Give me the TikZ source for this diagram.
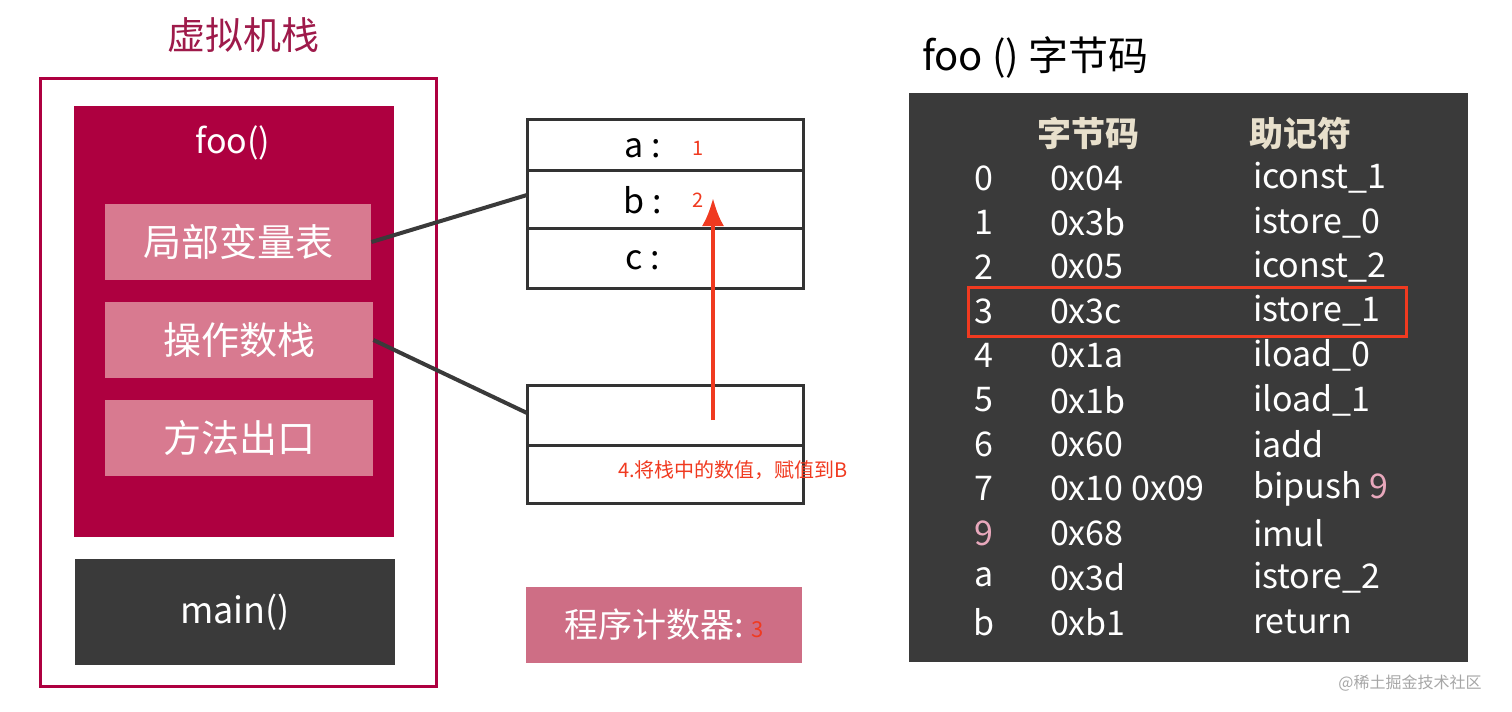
\documentclass[tikz,border=0pt]{standalone}
\usepackage{fontspec}
\setmainfont{Noto Sans CJK SC}
\usetikzlibrary{positioning,arrows.meta}
\definecolor{crimson}{HTML}{AE0040}
\definecolor{wine}{HTML}{9E1A4A}
\definecolor{rosy}{HTML}{D87A90}
\definecolor{pcpink}{HTML}{CE6E85}
\definecolor{slate}{HTML}{3A3A3A}
\definecolor{beige}{HTML}{E8E0CC}
\definecolor{hot}{HTML}{F03A20}
\definecolor{lilac}{HTML}{E8A8BC}
\tikzset{
  sect/.style={fill=rosy, text=white, font=\fontsize{19}{19}\selectfont},
  slot/.style={draw=black!80, line width=1.5pt},
  link/.style={draw=slate, line width=2pt},
  op/.style={text=white, font=\fontsize{17}{17}\selectfont, anchor=west},
}
\begin{document}
\begin{tikzpicture}[x=0.5pt, y=-0.5pt]
  \useasboundingbox (0,0) rectangle (1512,712);

  % left: the stack
  \node[text=wine, font=\fontsize{19}{19}\selectfont] (title) at (243,35) {虚拟机栈};
  \draw[crimson, line width=1.5pt] (40,78) rectangle (436,686);
  \fill[crimson] (74,106) rectangle (394,537);
  \node[text=white, font=\fontsize{17}{17}\selectfont] (foo) at (233,143) {foo()};
  \node[sect, minimum width=133pt, minimum height=38pt] (locals) at (238,242) {局部变量表};
  \node[sect, minimum width=134pt, minimum height=38pt] (opstack) at (239,340) {操作数栈};
  \node[sect, minimum width=134pt, minimum height=38pt] (exit) at (239,438) {方法出口};
  \node[fill=slate, text=white, minimum width=160pt, minimum height=53pt,
    font=\fontsize{18}{18}\selectfont] (main) at (235,612) {main()};

  % middle: local variable table and operand stack
  \draw[slot] (527,119) rectangle (803,288);
  \draw[slot] (527,170) -- (803,170);
  \draw[slot] (527,228) -- (803,228);
  \coordinate (lvt) at (527,195);
  \node[font=\fontsize{17}{17}\selectfont] (a) at (643,148) {a :};
  \node[font=\fontsize{17}{17}\selectfont] (b) at (643,200) {b :};
  \node[font=\fontsize{17}{17}\selectfont] (c) at (643,260) {c :};
  \node[text=hot, font=\fontsize{10}{10}\selectfont] (va) at (698,148) {1};
  \node[text=hot, font=\fontsize{10}{10}\selectfont] (vb) at (698,200) {2};

  \draw[slot] (527,385) rectangle (803,503);
  \draw[slot] (527,445) -- (803,445);
  \coordinate (ops) at (527,413);

  \draw[link] (locals.east) -- (lvt);
  \draw[link] (opstack.east) -- (ops);

  \coordinate (push) at (713,420);
  \coordinate (slotb) at (713,198);
  \draw[hot, line width=2pt, -{Latex[length=14pt,width=11pt]}] (push) -- (slotb);
  \node[text=hot, font=\fontsize{10}{10}\selectfont] (note) at (733,470) {4.将栈中的数值，赋值到B};

  \node[fill=pcpink, minimum width=138pt, minimum height=38pt, text=white,
    font=\fontsize{17}{17}\selectfont] (pc) at (664,625)
    {程序计数器:\hspace{4pt}{\color{hot}\fontsize{11}{11}\selectfont 3}};

  % right: bytecode
  \node[anchor=west, font=\fontsize{20}{20}\selectfont] (code) at (915,57) {foo () 字节码};
  \fill[slate] (909,93) rectangle (1468,662);
  \node[text=beige, font=\fontsize{17}{17}\selectfont\bfseries] (h1) at (1088,133) {字节码};
  \node[text=beige, font=\fontsize{17}{17}\selectfont\bfseries] (h2) at (1300,133) {助记符};
  \foreach \i/\hex/\mn [count=\k from 0] in {0/0x04/iconst\_1, 1/0x3b/istore\_0,
      2/0x05/iconst\_2, 3/0x3c/istore\_1, 4/0x1a/iload\_0, 5/0x1b/iload\_1,
      6/0x60/iadd, 7/0x10 0x09/bipush {\color{lilac}9}, {\color{lilac}9}/0x68/imul,
      a/0x3d/istore\_2, b/0xb1/return} {
    \node[text=white, font=\fontsize{17}{17}\selectfont] (idx\k) at (984,178+44.4*\k) {\i};
    \node[op] (hex\k) at (1043,178+44.4*\k) {\hex};
    \node[op] (mn\k) at (1246,178+44.4*\k) {\mn};
  }
  \draw[hot, line width=1.5pt] (968,287) rectangle (1406,336);

  \node[text=gray!70, font=\fontsize{8}{8}\selectfont] (mark) at (1410,683) {@稀土掘金技术社区};
\end{tikzpicture}
\end{document}
